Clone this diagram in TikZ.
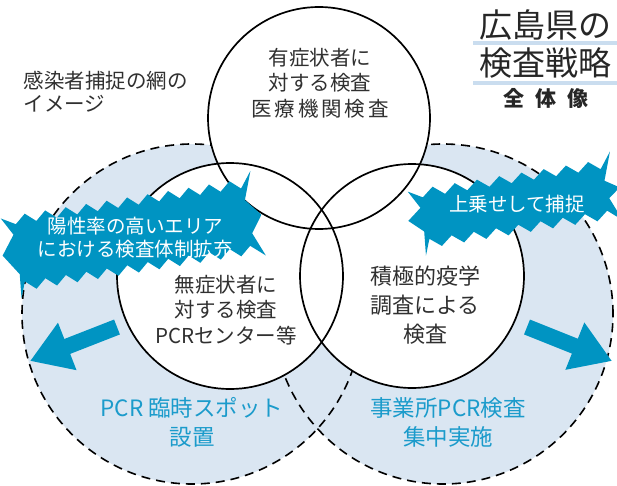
\documentclass[tikz,border=0pt]{standalone}
\usepackage{fontspec}
\newfontfamily\jp{Noto Sans CJK JP}
\usetikzlibrary{arrows.meta}

\definecolor{netfill}{HTML}{DAE6F2}
\definecolor{bandblue}{HTML}{0094C2}
\definecolor{areablue}{HTML}{1B9BCB}
\definecolor{inkgray}{HTML}{303030}
\definecolor{markblue}{HTML}{CADDEF}

\tikzset{
  netline/.style={dash pattern=on 9pt off 6pt, line width=1.6pt},
  ring/.style={line width=1.7pt},
  circtext/.style={align=center, text=inkgray, font=\jp\fontsize{20.5}{25.5}\selectfont},
  areatext/.style={align=center, text=areablue, font=\jp\fontsize{22.5}{29}\selectfont},
  bandtext/.style={align=center, text=white, font=\jp\fontsize{19.5}{23.5}\selectfont},
  outarrow/.style={bandblue, line width=16pt, -{Triangle[length=40pt,width=48pt]}},
}

% jagged band: #1 half width, #2 half height, #3 teeth
\newcommand\zigband[3]{%
  \fill[bandblue] (-#1,-#2)
    \foreach \k in {1,...,#3} { -- ({-#1+(2*\k-1)*#1/#3},{-#2-9}) -- ({-#1+2*\k*#1/#3},-#2) }
    -- ({#1+12},{-#2-16}) -- ({#1+2},{-#2+12}) -- ({#1+16},0) -- ({#1+4},{#2-12}) -- ({#1+14},{#2+12}) -- (#1,#2)
    \foreach \k in {1,...,#3} { -- ({#1-(2*\k-1)*#1/#3},{#2+9}) -- ({#1-2*\k*#1/#3},#2) }
    -- ({-#1-6},{#2+16}) -- ({-#1-4},{#2-8}) -- ({-#1-18},0) -- ({-#1-4},{-#2+10}) -- ({-#1-14},{-#2-8}) -- cycle;
}

\begin{document}
\begin{tikzpicture}[x=1pt,y=-1pt]
\useasboundingbox (0,0) rectangle (617,486);

\coordinate (leftnet) at (192,314);
\coordinate (rightnet) at (443,314);
\coordinate (topc) at (319,118);
\coordinate (leftc) at (230,276);
\coordinate (rightc) at (412,276);

% the wide net
\fill[netfill] (leftnet) circle (170pt);
\fill[netfill] (rightnet) circle (170pt);
\draw[netline] (leftnet) circle (170pt);
\draw[netline] (rightnet) circle (170pt);

% three kinds of tests
\fill[white] (topc) circle (111pt);
\fill[white] (leftc) circle (113pt);
\fill[white] (rightc) circle (112pt);
\draw[ring] (topc) circle (111pt);
\draw[ring] (leftc) circle (113pt);
\draw[ring] (rightc) circle (112pt);

\node[circtext] (symptom) at (320,83) {有症状者に\\対する検査\\{\addfontfeature{LetterSpace=14}医療機関検査}};
\node[circtext] (nosymptom) at (226,310) {無症状者に\\対する検査\\PCRセンター等};
\node[circtext, font=\jp\fontsize{22}{29}\selectfont] (survey) at (425,305) {積極的疫学\\調査による\\検査};

% bands
\begin{scope}[shift={(133,235)}, rotate=9]
  \zigband{114}{29}{11}
  \node[bandtext] (highrate) at (2,3) {陽性率の高いエリア\\における検査体制拡充};
\end{scope}
\begin{scope}[shift={(515,204)}, rotate=9]
  \zigband{90}{21}{8}
  \node[bandtext] (addon) at (2,0) {上乗せして捕捉};
\end{scope}

% arrows out
\coordinate (lefttail) at (117,327);
\coordinate (lefttip) at (30,361);
\coordinate (righttail) at (527,327);
\coordinate (righttip) at (612,361);
\draw[outarrow] (lefttail) -- (lefttip);
\draw[outarrow] (righttail) -- (righttip);

\node[areatext] (spot) at (192,422) {PCR 臨時スポット\\設置};
\node[areatext] (office) at (448,422) {事業所PCR検査\\集中実施};

% captions
\node[anchor=west, align=left, text=inkgray, font=\jp\fontsize{20.5}{23}\selectfont] (netcap) at (20,92) {感染者捕捉の網の\\イメージ};
\draw[markblue, line width=3.5pt] (473,43) -- (617,43);
\draw[markblue, line width=3.5pt] (473,83) -- (617,83);
\node[align=center, text=black!85, font=\jp\fontsize{33}{38}\selectfont] (title) at (545,44) {広島県の\\検査戦略};
\node[text=black!85, font=\jp\bfseries\fontsize{21}{21}\selectfont] (whole) at (546,98) {全\hspace{11pt}体\hspace{11pt}像};
\end{tikzpicture}
\end{document}
